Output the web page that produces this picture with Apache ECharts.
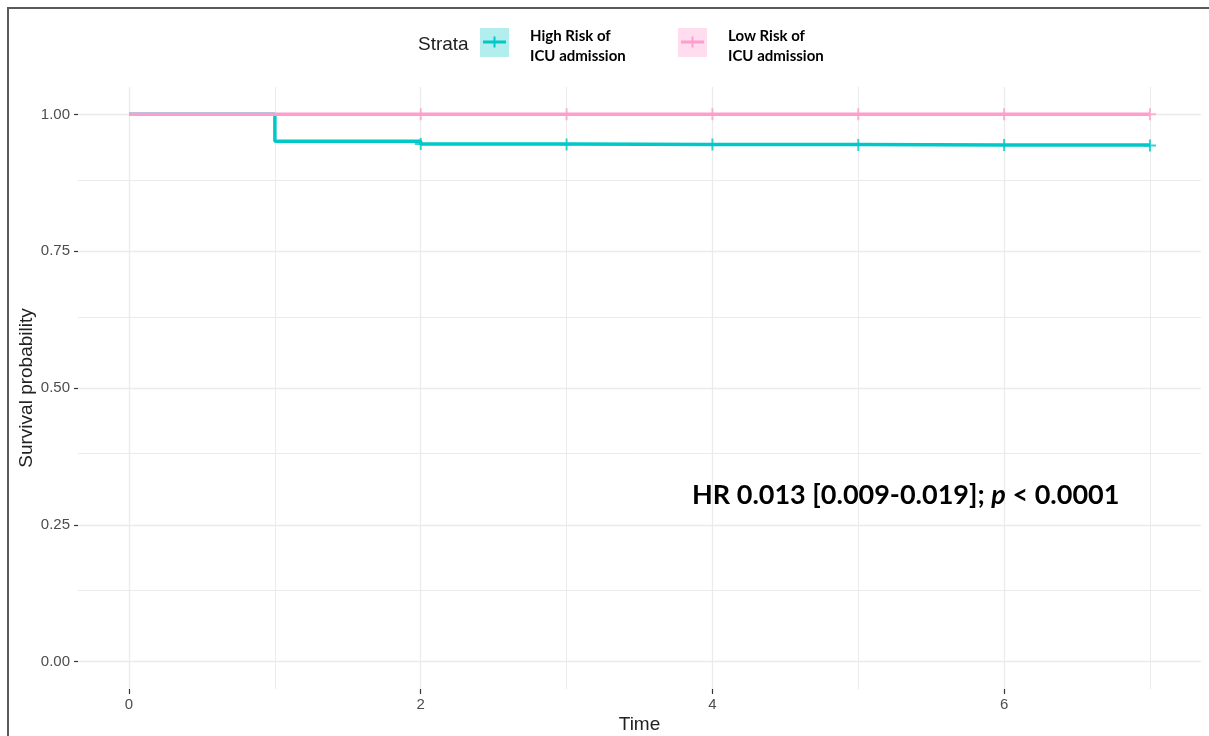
<!DOCTYPE html>
<html>
<head>
<meta charset="utf-8">
<script src="https://cdn.jsdelivr.net/npm/echarts@6/dist/echarts.min.js"></script>
<style>
  html, body { margin: 0; padding: 0; background: #fff; }
  #chart { position: absolute; left: 0; top: 0; width: 1209px; height: 736px; }
  #frame { position: absolute; left: 7px; top: 7px; right: 0; bottom: 0;
           border-top: 2px solid #5a5a5a; border-left: 2px solid #5a5a5a; pointer-events: none; }
</style>
</head>
<body>
<div id="chart"></div>
<div id="frame"></div>
<script>
// survival curves (Kaplan-Meier, step)
const times = [0, 1, 2, 3, 4, 5, 6, 7]
const highRisk = [1, 0.951, 0.946, 0.945, 0.945, 0.944, 0.944, 0.943]
const lowRisk = [1, 1, 1, 1, 1, 1, 1, 1]
// censor marks
const censorTimes = [2, 3, 4, 5, 6, 7]
// ticks / grid
const xTicks = [0, 2, 4, 6]
const xMinor = [1, 3, 5, 7]
const yTicks = [0, 0.25, 0.5, 0.75, 1]
const yMinor = [0.125, 0.375, 0.625, 0.875]

const seriesNames = ['High Risk of ICU admission', 'Low Risk of ICU admission']
const colors = ['#00C8C8', '#FF9ECE']
const keyFills = ['#B3EEEE', '#FFDDEE']

const plusPath = 'path://M5,0 H7 V5 H12 V7 H7 V12 H5 V7 H0 V5 H5 Z'
const keyPath = 'path://M0,0 L0.01,0 L0,0.01 Z M29,29 L28.99,29 L29,28.99 Z ' +
  'M3,12.5 H26 V15.5 H3 Z M13.5,8.5 H15.5 V19.5 H13.5 Z'

const chart = echarts.init(document.getElementById('chart'))

function pairs(ys) {
  return times.map((t, i) => [t, ys[i]])
}
function censors(ys) {
  return censorTimes.map(t => [t, ys[times.indexOf(t)]])
}

const gridLines = []
xTicks.forEach(v => gridLines.push({ xAxis: v, lineStyle: { width: 1.3 } }))
xMinor.forEach(v => gridLines.push({ xAxis: v, lineStyle: { width: 1 } }))
yTicks.forEach(v => gridLines.push({ yAxis: v, lineStyle: { width: 1.3 } }))
yMinor.forEach(v => gridLines.push({ yAxis: v, lineStyle: { width: 1 } }))

const legendText = {
  fontFamily: 'Lato',
  fontWeight: 'bold',
  fontSize: 15,
  lineHeight: 20,
  color: '#000',
  width: 120,
  padding: [6, 0, 0, 16]
}
const hiddenText = Object.assign({}, legendText, { color: 'rgba(0,0,0,0)' })

const legendBase = {
  left: 480,
  top: 19.5,
  padding: 0,
  orient: 'horizontal',
  itemWidth: 29,
  itemHeight: 29,
  itemGap: 28,
  selectedMode: false,
  itemStyle: { borderWidth: 0 },
  formatter: name => name.replace(' ICU', '\nICU')
}

chart.setOption({
  animation: false,
  title: [
    {
      text: 'Strata',
      left: 418,
      top: 35,
      padding: 0,
      textStyle: { fontFamily: 'Liberation Sans', fontWeight: 'normal', fontSize: 19, color: '#222' }
    },
    {
      text: '{b|HR 0.013 [0.009-0.019]; }{i|p}{b| < 0.0001}',
      left: 692,
      top: 482,
      padding: 0,
      textStyle: {
        rich: {
          b: { fontFamily: 'Lato', fontWeight: 'bold', fontSize: 27, color: '#000' },
          i: { fontFamily: 'Lato', fontWeight: 'bold', fontStyle: 'italic', fontSize: 27, color: '#000' }
        }
      }
    }
  ],
  legend: [
    // key background boxes
    Object.assign({}, legendBase, {
      icon: 'rect',
      data: seriesNames.map((n, i) => ({ name: n, itemStyle: { color: keyFills[i] } })),
      textStyle: hiddenText
    }),
    // key line + cross
    Object.assign({}, legendBase, {
      icon: keyPath,
      data: seriesNames.map((n, i) => ({ name: n, itemStyle: { color: colors[i] } })),
      textStyle: hiddenText
    }),
    // labels, a little lower than the keys
    Object.assign({}, legendBase, {
      top: 23,
      icon: 'rect',
      data: seriesNames.map(n => ({ name: n, itemStyle: { color: 'rgba(0,0,0,0)' } })),
      textStyle: legendText
    })
  ],
  grid: {
    left: 78,
    right: 8,
    top: 87,
    bottom: 47,
    containLabel: false,
    outerBoundsMode: 'none'
  },
  xAxis: {
    type: 'value',
    min: -0.35,
    max: 7.35,
    name: 'Time',
    nameLocation: 'middle',
    nameGap: 26,
    nameMoveOverlap: false,
    nameTextStyle: { fontFamily: 'Liberation Sans', fontSize: 19, color: '#222' },
    axisLine: { show: false, onZero: false },
    splitLine: { show: false },
    axisTick: {
      show: true,
      length: 5,
      customValues: xTicks,
      lineStyle: { color: '#333', width: 1.2 }
    },
    axisLabel: {
      customValues: xTicks,
      margin: 8,
      fontFamily: 'Liberation Sans',
      fontSize: 15,
      color: '#4D4D4D'
    }
  },
  yAxis: {
    type: 'value',
    min: -0.05,
    max: 1.05,
    name: 'Survival probability',
    nameLocation: 'middle',
    nameGap: 42,
    nameMoveOverlap: false,
    nameTextStyle: { fontFamily: 'Liberation Sans', fontSize: 19, color: '#222' },
    axisLine: { show: false, onZero: false },
    splitLine: { show: false },
    axisTick: {
      show: true,
      length: 4,
      customValues: yTicks,
      lineStyle: { color: '#333', width: 1.2 }
    },
    axisLabel: {
      customValues: yTicks,
      margin: 8,
      fontFamily: 'Liberation Sans',
      fontSize: 15,
      color: '#4D4D4D',
      formatter: v => v.toFixed(2)
    }
  },
  series: [
    {
      name: 'grid',
      type: 'line',
      data: [],
      z: 0,
      silent: true,
      markLine: {
        z: 0,
        silent: true,
        symbol: ['none', 'none'],
        label: { show: false },
        emphasis: { disabled: true },
        lineStyle: { color: '#EBEBEB', type: 'solid' },
        data: gridLines
      }
    },
    {
      name: seriesNames[0],
      type: 'line',
      step: 'end',
      data: pairs(highRisk),
      symbol: 'none',
      color: colors[0],
      lineStyle: { color: colors[0], width: 3.5 },
      z: 2
    },
    {
      name: 'High censor',
      type: 'scatter',
      data: censors(highRisk),
      symbol: plusPath,
      symbolSize: 12,
      itemStyle: { color: colors[0] },
      z: 3
    },
    {
      name: seriesNames[1],
      type: 'line',
      step: 'end',
      data: pairs(lowRisk),
      symbol: 'none',
      color: colors[1],
      lineStyle: { color: colors[1], width: 3.5 },
      z: 4
    },
    {
      name: 'Low censor',
      type: 'scatter',
      data: censors(lowRisk),
      symbol: plusPath,
      symbolSize: 12,
      itemStyle: { color: colors[1] },
      z: 5
    }
  ]
})
</script>
</body>
</html>
